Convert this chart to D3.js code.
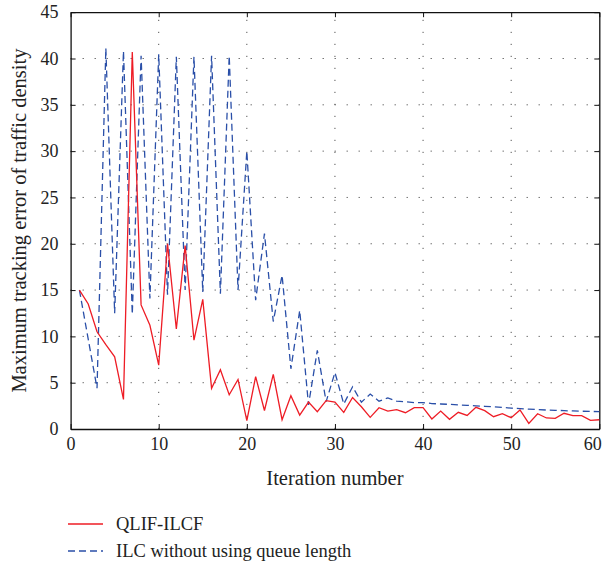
<!DOCTYPE html>
<html><head><meta charset="utf-8">
<script src="https://cdn.jsdelivr.net/npm/d3@7"></script>
<style>
html,body{margin:0;padding:0;background:#fff;}
text{font-family:"Liberation Serif","DejaVu Serif",serif;fill:#222;}
</style></head>
<body><svg id="chart" width="607" height="568"></svg>
<script>
const iterations = d3.range(1, 61);
const qlifIlcf = [15, 13.5, 10.5, 9.1, 7.8, 3.2, 40.7, 13.4, 11.2, 6.9,
  20.0, 10.8, 19.8, 9.6, 14.0, 4.4, 6.4, 3.7, 5.35, 0.9,
  5.65, 2.0, 5.9, 1.0, 3.6, 1.5, 2.9, 1.87, 3.06, 2.9,
  1.8, 3.4, 2.4, 1.26, 2.3, 1.94, 2.1, 1.76, 2.3, 2.3,
  1.08, 1.94, 1.05, 1.8, 1.47, 2.34, 1.98, 1.33, 1.65, 1.22,
  2.05, 0.6, 1.65, 1.19, 1.15, 1.7, 1.44, 1.44, 0.94, 1.0];
const ilcNoQueue = [15, 9.7, 4.4, 41.1, 12.5, 40.8, 12.4, 40.3, 14.1, 40.45,
  14.5, 40.2, 15.0, 40.2, 14.8, 40.3, 14.6, 40.3, 15.0, 30.0,
  13.9, 21.1, 11.6, 16.6, 6.5, 12.8, 2.6, 8.5, 2.95, 6.1,
  2.7, 4.56, 2.9, 3.77, 3.0, 3.35, 3.0, 2.95, 2.85, 2.85,
  2.75, 2.7, 2.66, 2.6, 2.55, 2.5, 2.45, 2.4, 2.33, 2.25,
  2.2, 2.15, 2.1, 2.05, 2.02, 1.98, 1.95, 1.92, 1.9, 1.87];
const xTicks = [0, 10, 20, 30, 40, 50, 60];
const yTicks = [0, 5, 10, 15, 20, 25, 30, 35, 40, 45];
const seriesNames = ["QLIF-ILCF", "ILC without using queue length"];

const svg = d3.select("#chart");
const L = 70.6, R = 599.3, T = 12.2, B = 429;
const x = d3.scaleLinear().domain([0, 60]).range([L, R]);
const y = d3.scaleLinear().domain([0, 45]).range([B, T]);

// grid
const grid = svg.append("g").attr("stroke", "#555").attr("stroke-width", 1)
  .attr("stroke-dasharray", "1.2,10.8");
grid.selectAll(".gx").data(xTicks.slice(1, -1)).enter().append("line")
  .attr("x1", d => x(d)).attr("x2", d => x(d)).attr("y1", B).attr("y2", T);
grid.selectAll(".gy").data(yTicks.slice(1, -1)).enter().append("line")
  .attr("y1", d => y(d)).attr("y2", d => y(d)).attr("x1", L).attr("x2", R);

// axes with inward ticks
const fs = "18px";
const xAxis = svg.append("g").attr("transform", `translate(0,${B})`)
  .call(d3.axisBottom(x).tickValues(xTicks).tickSizeInner(-5).tickSizeOuter(0).tickPadding(8));
const yAxis = svg.append("g").attr("transform", `translate(${L},0)`)
  .call(d3.axisLeft(y).tickValues(yTicks).tickSizeInner(-5).tickSizeOuter(0).tickPadding(12));
const xTop = svg.append("g").attr("transform", `translate(0,${T})`)
  .call(d3.axisTop(x).tickValues(xTicks).tickSizeInner(-5).tickSizeOuter(0).tickFormat(""));
const yRight = svg.append("g").attr("transform", `translate(${R},0)`)
  .call(d3.axisRight(y).tickValues(yTicks).tickSizeInner(-5).tickSizeOuter(0).tickFormat(""));
[xAxis, yAxis, xTop, yRight].forEach(g => {
  g.selectAll("path").attr("stroke", "#111").attr("stroke-width", 1.3);
  g.selectAll("line").attr("stroke", "#111");
  g.selectAll("text").style("font-family", '"Liberation Serif",serif').style("font-size", fs).attr("fill", "#222");
});
// keep the last x label inside the page
xAxis.selectAll(".tick").filter(d => d === 60).select("text")
  .attr("text-anchor", "end").attr("x", 2);

// lines
const mk = vals => d3.line().x((d, i) => x(iterations[i])).y(d => y(d))(vals);
svg.append("path").attr("d", mk(ilcNoQueue)).attr("fill", "none")
  .attr("stroke", "#2a4fa8").attr("stroke-width", 1.3).attr("stroke-dasharray", "7,4");
svg.append("path").attr("d", mk(qlifIlcf)).attr("fill", "none")
  .attr("stroke", "#ee1c25").attr("stroke-width", 1.3);

// axis titles
svg.append("text").attr("x", (L + R) / 2).attr("y", 485).attr("text-anchor", "middle")
  .style("font-size", "20.5px").text("Iteration number");
svg.append("text").attr("transform", `translate(26,${(T + B) / 2}) rotate(-90)`)
  .attr("text-anchor", "middle").style("font-size", "20.5px")
  .text("Maximum tracking error of traffic density");

// legend
const leg = svg.append("g");
const ly = [524, 551];
leg.append("line").attr("x1", 68).attr("x2", 103).attr("y1", ly[0]).attr("y2", ly[0])
  .attr("stroke", "#ee1c25").attr("stroke-width", 1.3);
leg.append("line").attr("x1", 68).attr("x2", 103).attr("y1", ly[1]).attr("y2", ly[1])
  .attr("stroke", "#2a4fa8").attr("stroke-width", 1.3).attr("stroke-dasharray", "7,4");
seriesNames.forEach((n, i) => {
  leg.append("text").attr("x", 116).attr("y", ly[i] + 6).style("font-size", "18.5px").text(n);
});
</script></body></html>
